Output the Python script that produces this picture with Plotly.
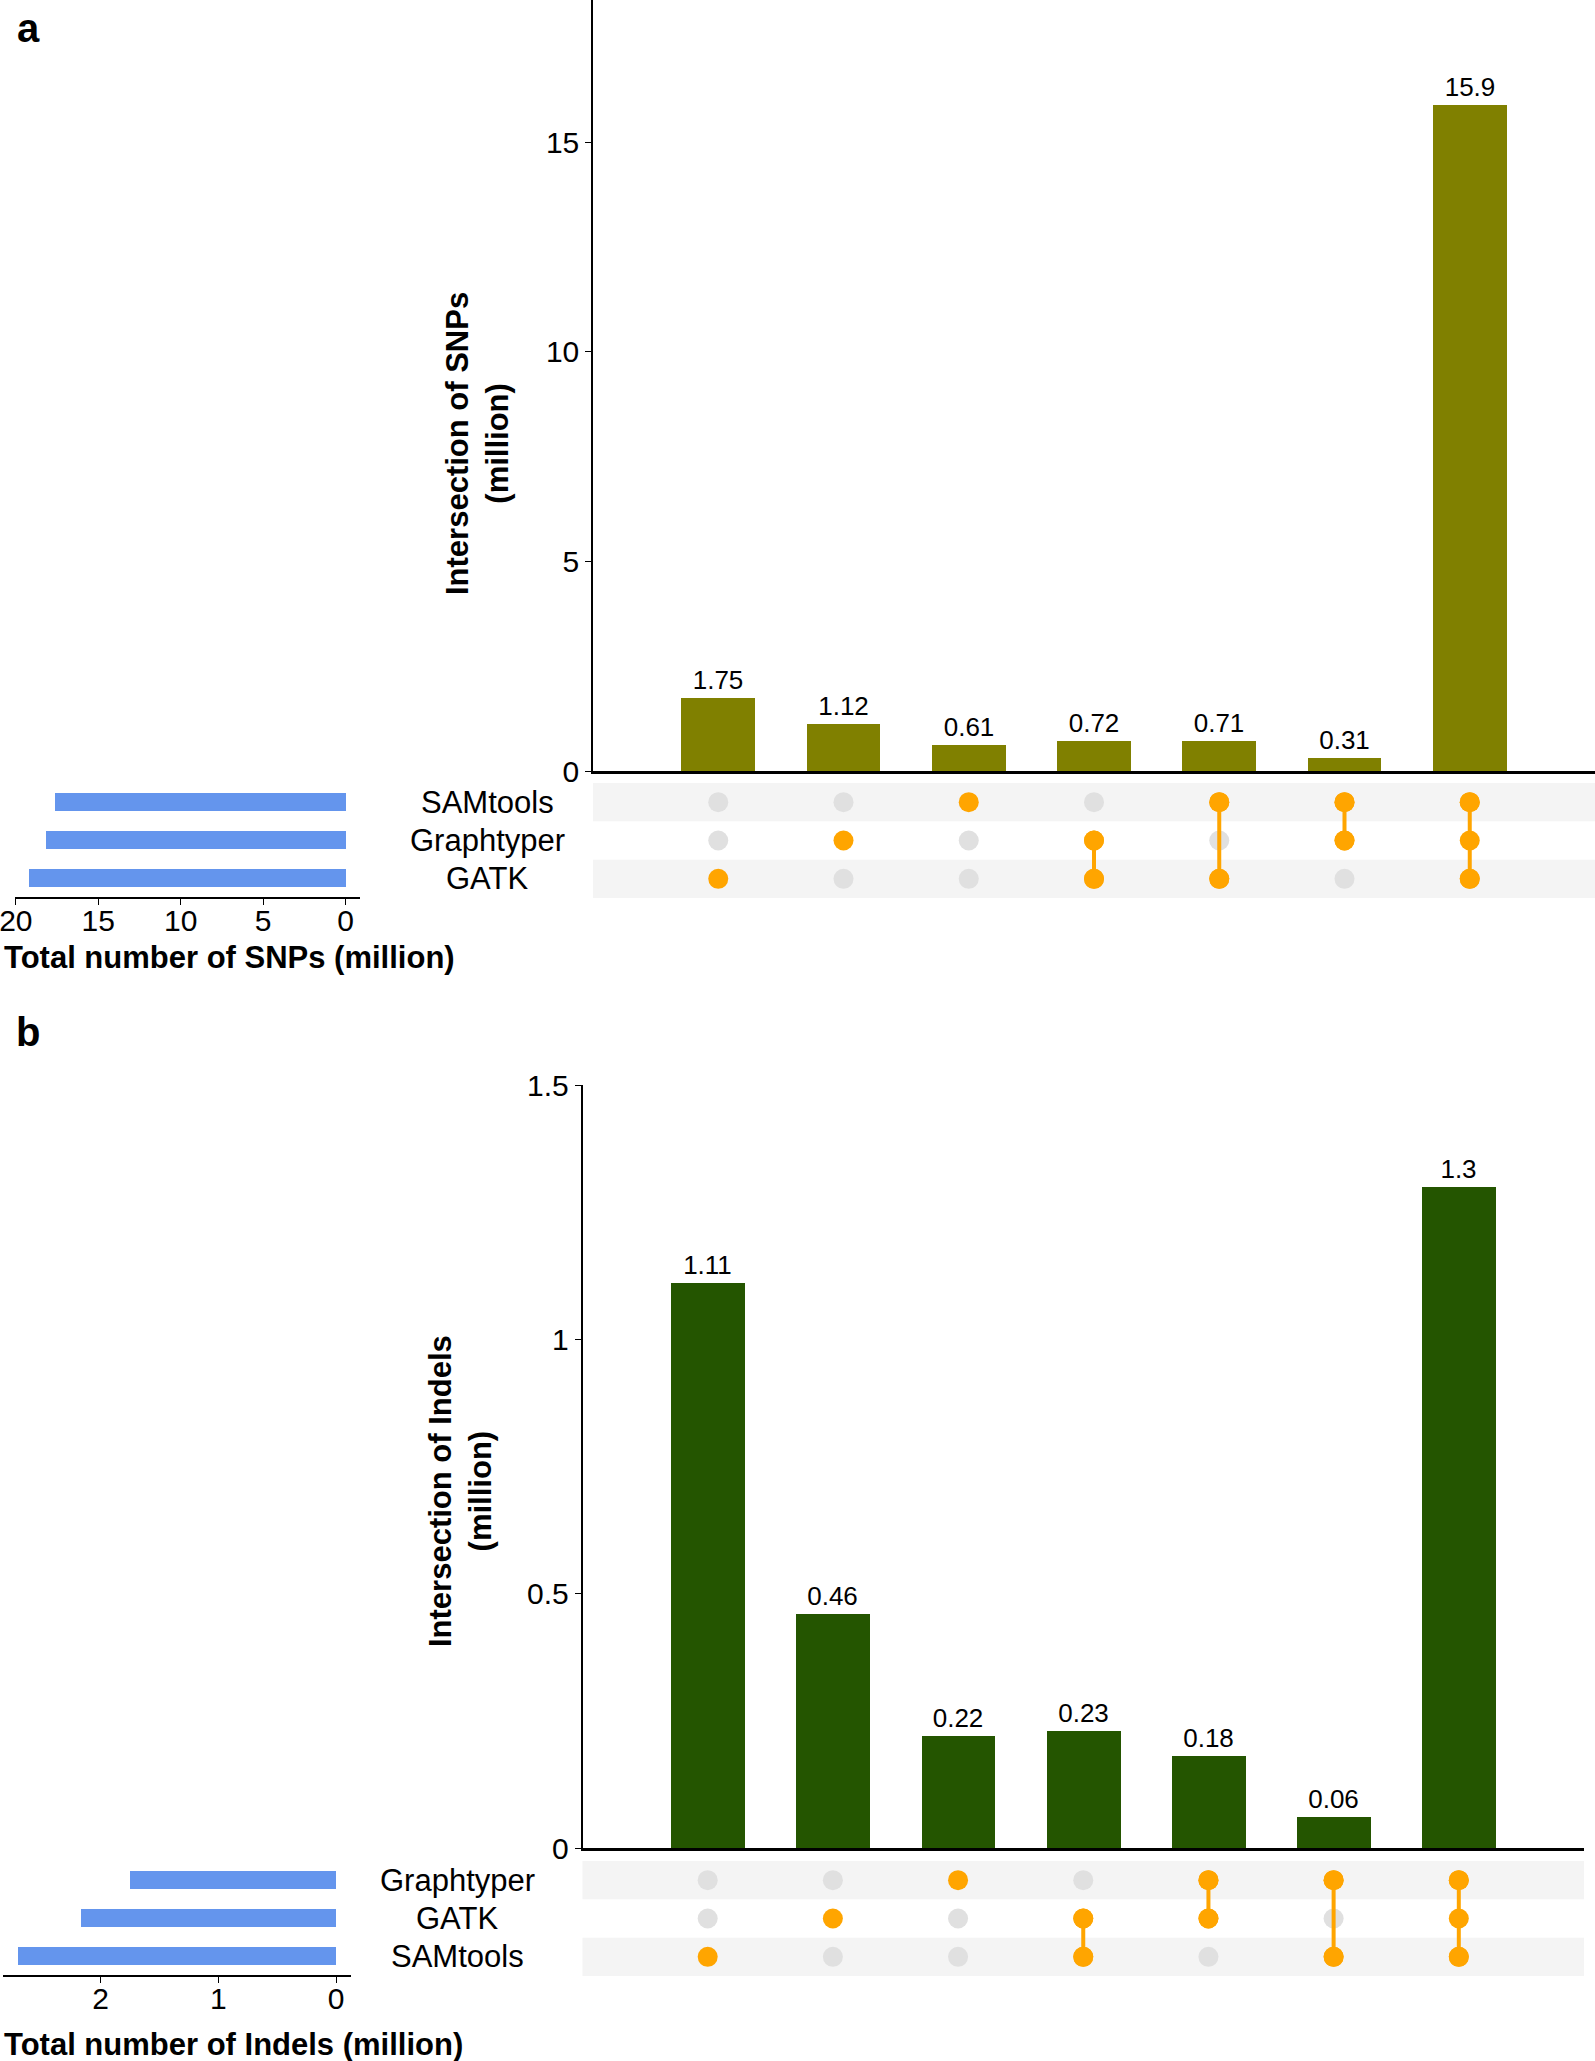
import plotly.graph_objects as go

W, H = 1595, 2061

# ---------------- data ----------------
snp_sets = ["SAMtools", "Graphtyper", "GATK"]
snp_totals = [17.6, 18.2, 19.2]
snp_intersections = [1.75, 1.12, 0.61, 0.72, 0.71, 0.31, 15.9]
snp_members = [
    ["GATK"],
    ["Graphtyper"],
    ["SAMtools"],
    ["Graphtyper", "GATK"],
    ["SAMtools", "GATK"],
    ["SAMtools", "Graphtyper"],
    ["SAMtools", "Graphtyper", "GATK"],
]

indel_sets = ["Graphtyper", "GATK", "SAMtools"]
indel_totals = [1.75, 2.17, 2.70]
indel_intersections = [1.11, 0.46, 0.22, 0.23, 0.18, 0.06, 1.3]
indel_members = [
    ["SAMtools"],
    ["GATK"],
    ["Graphtyper"],
    ["GATK", "SAMtools"],
    ["Graphtyper", "GATK"],
    ["Graphtyper", "SAMtools"],
    ["Graphtyper", "GATK", "SAMtools"],
]

snp_ticks = [0, 5, 10, 15]
indel_ticks = [0, 0.5, 1, 1.5]
indel_tick_text = ["0", "0.5", "1", "1.5"]
snp_total_ticks = [0, 5, 10, 15, 20]
indel_total_ticks = [0, 1, 2]

# ---------------- style ----------------
FONT = "Liberation Sans, Arial, Helvetica, sans-serif"
OLIVE = "#808000"
DGREEN = "#245500"
BLUE = "#6495ED"
ORANGE = "#FFA500"
GREY_DOT = "#E0E0E0"
BAND = "#F4F4F4"


def fx(p):
    return p / W


def fy(p):
    return 1 - p / H


fig = go.Figure()


def add_panel(sets, totals, inters, members, color, ax):
    xb, yb = ("x", "y") if ax[0] == 1 else (f"x{ax[0]}", f"y{ax[0]}")
    xm, ym = f"x{ax[1]}", f"y{ax[1]}"
    xt, yt = f"x{ax[2]}", f"y{ax[2]}"
    cols = list(range(1, len(inters) + 1))
    fig.add_trace(go.Bar(
        x=cols, y=inters, xaxis=xb, yaxis=yb, marker_color=color, width=0.59,
        text=[str(v) for v in inters], textposition="outside", cliponaxis=False,
        constraintext="none",
        textfont=dict(size=26, color="black", family=FONT), showlegend=False,
        marker_line_width=0,
    ))
    gx, gy, gc = [], [], []
    for c, mem in zip(cols, members):
        for r, s in enumerate(sets):
            gx.append(c)
            gy.append(r)
            gc.append(ORANGE if s in mem else GREY_DOT)
    fig.add_trace(go.Scatter(
        x=gx, y=gy, xaxis=xm, yaxis=ym, mode="markers",
        marker=dict(size=20, color=gc, line_width=0), showlegend=False,
    ))
    for c, mem in zip(cols, members):
        if len(mem) > 1:
            rows = [sets.index(s) for s in mem]
            fig.add_trace(go.Scatter(
                x=[c, c], y=[min(rows), max(rows)], xaxis=xm, yaxis=ym,
                mode="lines+markers", line=dict(color=ORANGE, width=4),
                marker=dict(size=20, color=ORANGE), showlegend=False,
            ))
    fig.add_trace(go.Bar(
        x=totals, y=list(range(len(sets))), orientation="h", xaxis=xt, yaxis=yt,
        marker_color=BLUE, width=0.45, showlegend=False, marker_line_width=0,
    ))
    for r in range(len(sets)):
        if r % 2 == 0:
            fig.add_shape(type="rect", xref=f"{xm} domain", yref=ym, x0=0, x1=1,
                          y0=r - 0.5, y1=r + 0.5, fillcolor=BAND, line_width=0,
                          layer="below")


add_panel(snp_sets, snp_totals, snp_intersections, snp_members, OLIVE, (1, 2, 3))
add_panel(indel_sets, indel_totals, indel_intersections, indel_members, DGREEN, (4, 5, 6))

tickfont = dict(size=30, color="black", family=FONT)
hidden = dict(visible=False, showgrid=False, zeroline=False, automargin=False)
common = dict(automargin=False, showgrid=False, zeroline=False)

layout = dict(
    template="none",
    width=W, height=H, margin=dict(l=0, r=0, t=0, b=0, pad=0, autoexpand=False),
    paper_bgcolor="white", plot_bgcolor="white", bargap=0,
    font=dict(family=FONT, color="black"),
    xaxis=dict(domain=[fx(593), 1.0], range=[0, 8], showticklabels=False, ticks="",
               showline=True, linecolor="black", linewidth=2.5, anchor="y", **common),
    yaxis=dict(domain=[fy(771), fy(0)], range=[0, 18.4], tickvals=snp_ticks, ticks="outside",
               ticklen=6, tickcolor="black", showline=True, linecolor="black", linewidth=1.5,
               tickfont=tickfont, anchor="x", **common),
    xaxis2=dict(domain=[fx(593), 1.0], range=[0, 8], anchor="y2", **hidden),
    yaxis2=dict(domain=[fy(898), fy(783)], range=[2.5, -0.5], anchor="x2", **hidden),
    xaxis3=dict(domain=[fx(15), fx(360)], range=[20.05, -0.87], tickvals=snp_total_ticks,
                ticks="outside", ticklen=6, tickcolor="black", showline=True,
                linecolor="black", linewidth=2, tickfont=tickfont, ticklabelstandoff=-10,
                ticklabeloverflow="allow", anchor="y3", **common),
    yaxis3=dict(domain=[fy(897), fy(783)], range=[2.5, -0.5], anchor="x3", **hidden),
    xaxis4=dict(domain=[fx(582.5), fx(1584)], range=[0, 8], showticklabels=False, ticks="",
                showline=True, linecolor="black", linewidth=2.5, anchor="y4", **common),
    yaxis4=dict(domain=[fy(1848), fy(1085)], range=[0, 1.5], tickvals=indel_ticks,
                ticktext=indel_tick_text, ticks="outside", ticklen=6, tickcolor="black",
                showline=True, linecolor="black", linewidth=1.5, tickfont=tickfont,
                anchor="x4", **common),
    xaxis5=dict(domain=[fx(582.5), fx(1584)], range=[0, 8], anchor="y5", **hidden),
    yaxis5=dict(domain=[fy(1976), fy(1861)], range=[2.5, -0.5], anchor="x5", **hidden),
    xaxis6=dict(domain=[fx(3), fx(351)], range=[2.83, -0.127], tickvals=indel_total_ticks,
                ticks="outside", ticklen=6, tickcolor="black", showline=True,
                linecolor="black", linewidth=2, tickfont=tickfont, ticklabelstandoff=-10,
                ticklabeloverflow="allow", anchor="y6", **common),
    yaxis6=dict(domain=[fy(1975), fy(1861)], range=[2.5, -0.5], anchor="x6", **hidden),
)
fig.update_layout(**layout)


def note(text, x, y, size, yref="paper", angle=0, xanchor="center"):
    return dict(text=text, x=x, y=y, xref="paper", yref=yref, showarrow=False,
                xanchor=xanchor, yanchor="middle", textangle=angle,
                font=dict(size=size, family=FONT, color="black"))


ann = [
    note("<b>a</b>", fx(28), fy(28), 40),
    note("<b>b</b>", fx(28), fy(1032), 40),
    note("<b>Intersection of SNPs<br>(million)</b>", fx(478), fy(444), 31, angle=-90),
    note("<b>Intersection of Indels<br>(million)</b>", fx(460), fy(1491), 31, angle=-90),
    note("<b>Total number of SNPs (million)</b>", fx(2), fy(957), 31, xanchor="left"),
    note("<b>Total number of Indels (million)</b>", fx(2), fy(2044), 31, xanchor="left"),
]
for r, s in enumerate(snp_sets):
    ann.append(note(s, fx(487), r, 31, yref="y2"))
for r, s in enumerate(indel_sets):
    ann.append(note(s, fx(457), r, 31, yref="y5"))
fig.update_layout(annotations=ann)

post = (
    "document.documentElement.style.margin='0';"
    "document.documentElement.style.overflow='hidden';"
    "document.body.style.margin='0';"
    "document.body.style.overflow='hidden';"
    "var gd=document.getElementById('{plot_id}');"
    "gd.style.position='fixed';gd.style.top='0px';gd.style.left='0px';"
)

fig.write_html("out.html", config={"displayModeBar": False}, post_script=post)
